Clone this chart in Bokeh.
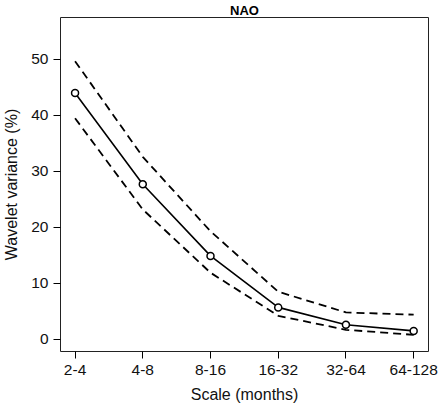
from bokeh.plotting import figure
from bokeh.models import FixedTicker, Range1d, Title
from bokeh.embed import file_html
from bokeh.resources import INLINE

categories = ["2-4", "4-8", "8-16", "16-32", "32-64", "64-128"]
variance = [44.0, 27.7, 14.9, 5.7, 2.6, 1.5]
upper = [49.7, 32.6, 19.3, 8.5, 4.8, 4.4]
lower = [39.5, 23.2, 11.9, 4.2, 1.7, 0.8]
y_ticks = [0, 10, 20, 30, 40, 50]

xs = list(range(len(categories)))
FONT = "Liberation Sans"

X0, X1 = -0.215, 5.219
Y0, Y1 = -2.18, 57.5
p = figure(width=439, height=406, output_backend="svg", toolbar_location=None,
           x_range=Range1d(X0, X1), y_range=Range1d(Y0, Y1),
           min_border_left=56, min_border_right=11, min_border_top=17, min_border_bottom=55)
p.title = None
title = Title(text="NAO", align="center", text_font=FONT, text_font_size="13px",
              text_font_style="bold", text_color="black", standoff=0, offset=0)
p.add_layout(title, "above")

p.background_fill_color = "white"
p.border_fill_color = "white"
p.outline_line_color = "#222222"
p.outline_line_width = 1
p.grid.visible = False

p.line(xs, upper, line_color="black", line_width=1.8, line_dash="8 5")
p.line(xs, lower, line_color="black", line_width=1.8, line_dash="8 5")
p.line(xs, variance, line_color="black", line_width=1.6)
p.scatter(xs, variance, size=7, marker="circle", line_color="black", line_width=1.5,
          fill_color="white")

for ax in (p.xaxis[0], p.yaxis[0]):
    ax.axis_line_color = None
    ax.major_tick_out = 7
    ax.major_tick_in = 0
    ax.minor_tick_line_color = None
    ax.major_tick_line_color = "black"
    ax.major_label_text_font = FONT
    ax.major_label_text_font_size = "15.5px"
    ax.major_label_text_color = "#111111"
    ax.axis_label_text_font = FONT
    ax.axis_label_text_font_size = "16px"
    ax.axis_label_text_font_style = "normal"
    ax.axis_label_text_color = "#111111"

p.xaxis.ticker = FixedTicker(ticks=xs)
p.xaxis.major_label_overrides = {i: c for i, c in enumerate(categories)}
p.xaxis.axis_label = "Scale (months)"
p.xaxis.major_label_standoff = 6
p.xaxis.axis_label_standoff = 8

p.yaxis.ticker = FixedTicker(ticks=y_ticks)
p.yaxis.axis_label = "Wavelet variance (%)"
p.yaxis.major_label_standoff = 5
p.yaxis.axis_label_standoff = 8
p.yaxis.major_label_orientation = "horizontal"

open("out.html", "w").write(file_html(p, INLINE))
